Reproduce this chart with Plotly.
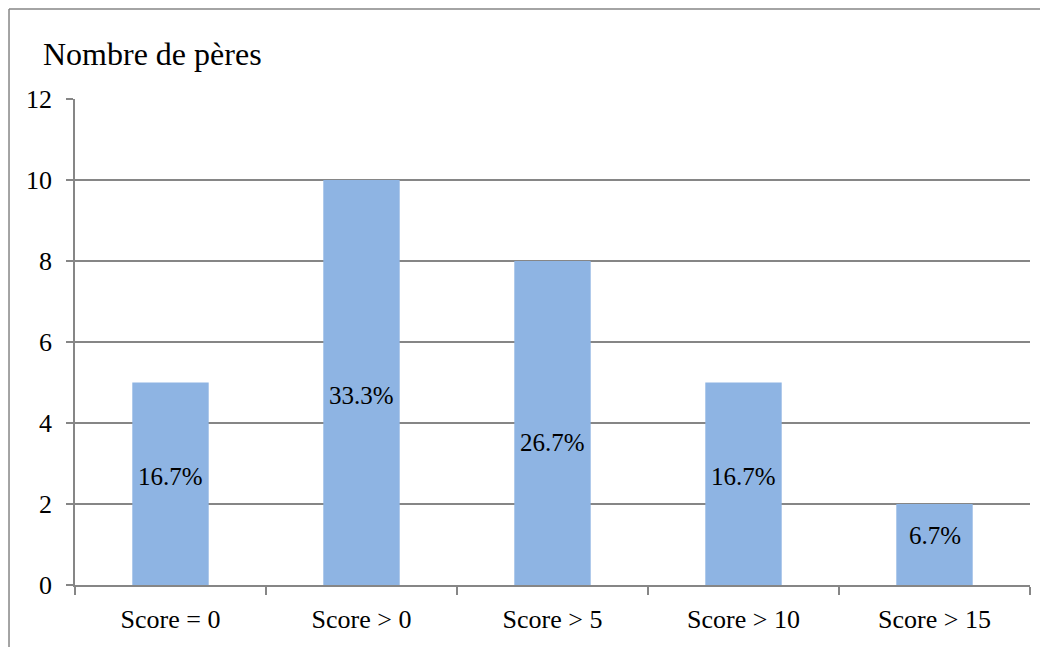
import plotly.graph_objects as go

categories = ["Score = 0", "Score > 0", "Score > 5", "Score > 10", "Score > 15"]
counts = [5, 10, 8, 5, 2]
pct_labels = ["16.7%", "33.3%", "26.7%", "16.7%", "6.7%"]
label_y = [2.67, 4.69, 3.51, 2.67, 1.23]
y_ticks = [0, 2, 4, 6, 8, 10, 12]

FONT = "Liberation Serif, Times New Roman, serif"
GRAY = "#868686"

fig = go.Figure()
fig.add_trace(go.Bar(x=categories, y=counts, marker=dict(color="#8EB4E3", line=dict(width=0)),
                     hoverinfo="skip"))

for c, t, yy in zip(categories, pct_labels, label_y):
    fig.add_annotation(x=c, y=yy, text=t, showarrow=False, xanchor="center", yanchor="middle",
                       font=dict(family=FONT, size=25, color="black"))

fig.add_annotation(xref="paper", yref="paper", x=-0.0355, y=1.0926, text="Nombre de pères",
                   showarrow=False, xanchor="left", yanchor="middle",
                   font=dict(family=FONT, size=32, color="black"))

# outer border (left and top sides visible)
fig.add_shape(type="line", xref="paper", yref="paper", x0=-0.0691, x1=-0.0691, y0=-0.2, y1=1.1852,
              line=dict(color=GRAY, width=1.5))
fig.add_shape(type="line", xref="paper", yref="paper", x0=-0.0691, x1=1.1, y0=1.1852, y1=1.1852,
              line=dict(color=GRAY, width=1.5))

fig.update_layout(
    width=1048, height=647,
    margin=dict(l=67, r=26, t=91, b=70),
    paper_bgcolor="white", plot_bgcolor="white",
    bargap=0.6, showlegend=False,
    font=dict(family=FONT, size=26, color="black"),
)
fig.update_xaxes(showline=True, linecolor=GRAY, linewidth=1.5, ticks="outside", tickson="boundaries",
                 ticklen=8, tickcolor=GRAY, tickwidth=1.5, showgrid=False,
                 tickfont=dict(family=FONT, size=26, color="black"), ticklabelstandoff=10)
fig.update_yaxes(range=[0, 12], tickvals=y_ticks, showline=True, linecolor=GRAY, linewidth=1.5,
                 ticks="outside", ticklen=7, tickcolor=GRAY, tickwidth=1.5,
                 showgrid=True, gridcolor=GRAY, gridwidth=1.5, zeroline=False,
                 tickfont=dict(family=FONT, size=26, color="black"), ticklabelstandoff=9)

fig.write_html("out.html")
